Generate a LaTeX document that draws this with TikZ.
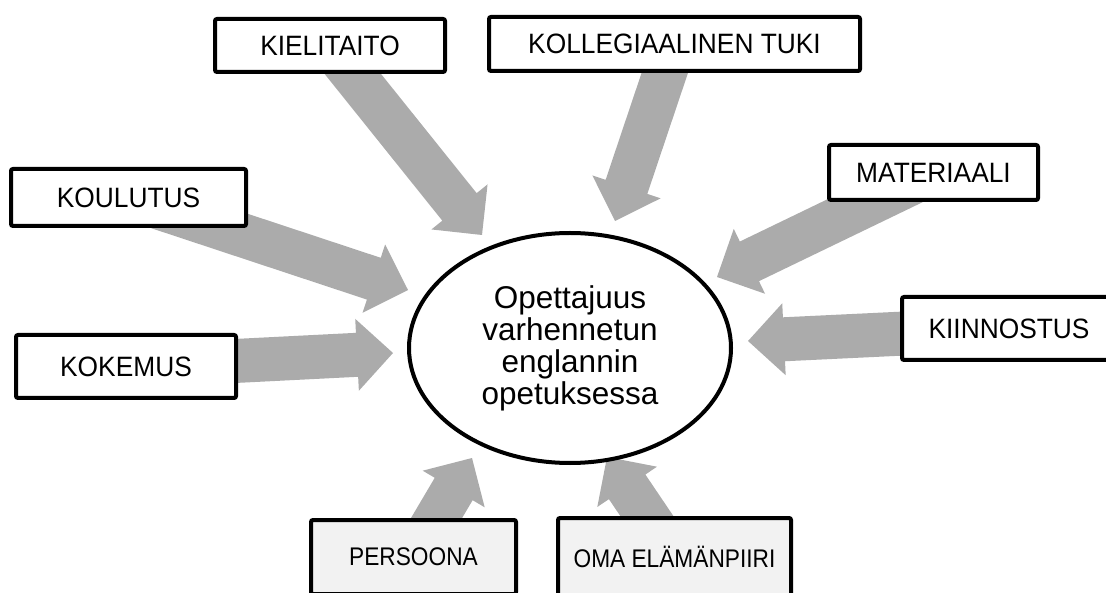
\documentclass[tikz,border=0pt]{standalone}
\usepackage{fontspec}
\setmainfont{Liberation Sans}
\newfontfamily\lblfont[FakeStretch=0.94]{Liberation Sans}
\newfontfamily\lblfontb[FakeStretch=0.89]{Liberation Sans}
\usetikzlibrary{calc,shapes.geometric}
\definecolor{agray}{RGB}{171,171,171}
\definecolor{lgray}{RGB}{242,242,242}
\pgfdeclarelayer{bg}
\pgfsetlayers{bg,main}
\tikzset{
 lbl/.style={draw=black, line width=4pt, rounded corners=2pt, fill=white, inner sep=0pt,
   font=\lblfont\fontsize{28}{30}\selectfont},
 lblg/.style={lbl, fill=lgray, font=\lblfontb\fontsize{25.5}{27}\selectfont},
 hub/.style={ellipse, draw=black, line width=4pt, fill=white, inner sep=0pt, align=center,
   font=\fontsize{31.5}{32}\selectfont},
}
\newcommand\blockarr[3]{%
 \coordinate (#1) at ($(#3)!36pt!(#2)$);
 \fill[agray] ($(#2)!22pt!90:(#3)$) -- ($(#1)!22pt!90:(#3)$) -- ($(#1)!36pt!90:(#3)$) -- (#3)
   -- ($(#1)!36pt!-90:(#3)$) -- ($(#1)!22pt!-90:(#3)$) -- ($(#2)!22pt!-90:(#3)$) -- cycle;
}
\begin{document}
\begin{tikzpicture}[x=1pt,y=-1pt]
\useasboundingbox (0,0) rectangle (1106,593);
\node[lbl, minimum width=230pt, minimum height=53pt] (kie) at (330,45.5) {KIELITAITO};
\node[lbl, minimum width=371pt, minimum height=54pt] (kol) at (674.5,44) {KOLLEGIAALINEN TUKI};
\node[lbl, minimum width=209pt, minimum height=55pt] (mat) at (933.5,172.5) {MATERIAALI};
\node[lbl, minimum width=214pt, minimum height=63pt] (kii) at (1009,328.5) {KIINNOSTUS};
\node[lbl, minimum width=235pt, minimum height=57pt] (kou) at (128.5,197.5) {KOULUTUS};
\node[lbl, minimum width=220pt, minimum height=63pt] (kok) at (126,366.5) {KOKEMUS};
\node[lblg, minimum width=205pt, minimum height=74pt] (per) at (413.5,557) {PERSOONA};
\node[lblg, minimum width=233pt, minimum height=78pt] (oma) at (674.5,557) {OMA ELÄMÄNPIIRI};
\node[hub, minimum width=322pt, minimum height=230pt] (hub) at (570,348)
  {Opettajuus\\varhennetun\\englannin\\opetuksessa};
\coordinate (tkie) at (482,235);
\coordinate (tkol) at (615,221);
\coordinate (tmat) at (717,277);
\coordinate (tkii) at (748,341);
\coordinate (tkou) at (408,290);
\coordinate (tkok) at (393,353);
\coordinate (tper) at (472,458);
\coordinate (toma) at (607,457);
\begin{pgfonlayer}{bg}
\blockarr{ckie}{kie.center}{tkie}
\blockarr{ckol}{kol.center}{tkol}
\blockarr{cmat}{mat.center}{tmat}
\blockarr{ckii}{kii.center}{tkii}
\blockarr{ckou}{kou.center}{tkou}
\blockarr{ckok}{kok.center}{tkok}
\blockarr{cper}{per.center}{tper}
\blockarr{coma}{oma.center}{toma}
\end{pgfonlayer}
\end{tikzpicture}
\end{document}
